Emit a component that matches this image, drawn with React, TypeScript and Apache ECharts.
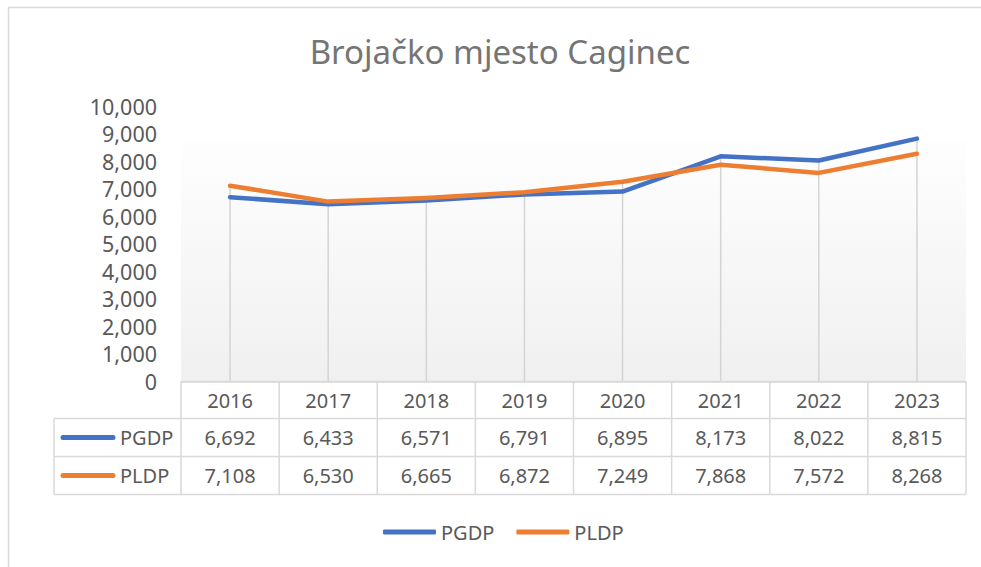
import React, { useEffect, useRef } from "react";
import * as echarts from "echarts";

const categories = ["2016", "2017", "2018", "2019", "2020", "2021", "2022", "2023"];
const seriesNames = ["PGDP", "PLDP"];
const pgdp = [6692, 6433, 6571, 6791, 6895, 8173, 8022, 8815];
const pldp = [7108, 6530, 6665, 6872, 7249, 7868, 7572, 8268];
const colors = ["#4472C4", "#ED7D31"];
const titleText = "Brojačko mjesto Caginec";

const W = 981;
const H = 567;
const FONT = "'Noto Sans', sans-serif";
const GRID_LEFT = 181;
const GRID_RIGHT = 15;
const GRID_TOP = 106;
const GRID_BOTTOM = 185.5;
const GRAY = "#595959";
const LINE = "#d9d9d9";

const fmt = (v: number) => v.toLocaleString("en-US");

export default function App() {
  const ref = useRef<HTMLDivElement>(null);
  useEffect(() => {
    if (!ref.current) return;
    const chart = echarts.init(ref.current, null, { renderer: "svg" });
    const plotW = W - GRID_LEFT - GRID_RIGHT;
    const colW = plotW / categories.length;
    const axisY = H - GRID_BOTTOM;
    const rowYs = [axisY, 418.5, 456.5, 494.5];
    const legendColLeft = 54;
    const seriesData = [pgdp, pldp];
    const drop = categories.map((_, i) => Math.max(pgdp[i], pldp[i]));

    const g: any[] = [];
    g.push({
      type: "rect",
      shape: { x: 8.5, y: 7.5, width: 1000, height: 600 },
      style: { fill: "none", stroke: LINE, lineWidth: 1.5 },
      z: 0,
    });
    g.push({
      type: "rect",
      shape: { x: GRID_LEFT, y: 141, width: plotW, height: axisY - 141 },
      style: {
        fill: new echarts.graphic.LinearGradient(0, 0, 0, 1, [
          { offset: 0, color: "#fefefe" },
          { offset: 1, color: "#f0f0f0" },
        ]),
      },
      z: 0,
    });
    g.push({
      type: "text",
      x: 500,
      y: 51,
      style: {
        text: titleText,
        fontFamily: FONT,
        fontSize: 33,
        fill: "#757575",
        align: "center",
        verticalAlign: "middle",
      },
      z: 5,
    });
    rowYs.forEach((y, k) => {
      g.push({
        type: "line",
        shape: { x1: k === 0 ? GRID_LEFT : legendColLeft, y1: y, x2: GRID_LEFT + plotW, y2: y },
        style: { stroke: LINE, lineWidth: 1.5 },
        z: 4,
      });
    });
    for (let c = 0; c <= categories.length; c++) {
      const x = GRID_LEFT + c * colW;
      g.push({
        type: "line",
        shape: { x1: x, y1: rowYs[0], x2: x, y2: rowYs[3] },
        style: { stroke: LINE, lineWidth: 1.5 },
        z: 4,
      });
    }
    g.push({
      type: "line",
      shape: { x1: legendColLeft, y1: rowYs[1], x2: legendColLeft, y2: rowYs[3] },
      style: { stroke: LINE, lineWidth: 1.5 },
      z: 4,
    });
    categories.forEach((cat, i) => {
      g.push({
        type: "text",
        x: GRID_LEFT + (i + 0.5) * colW,
        y: (rowYs[0] + rowYs[1]) / 2,
        style: { text: cat, fontFamily: FONT, fontSize: 20, fill: GRAY, align: "center", verticalAlign: "middle" },
        z: 5,
      });
    });
    seriesData.forEach((arr, r) => {
      const cy = (rowYs[r + 1] + rowYs[r + 2]) / 2;
      g.push({
        type: "line",
        shape: { x1: 63, y1: cy, x2: 113, y2: cy },
        style: { stroke: colors[r], lineWidth: 5, lineCap: "round" },
        z: 5,
      });
      g.push({
        type: "text",
        x: 120,
        y: cy,
        style: { text: seriesNames[r], fontFamily: FONT, fontSize: 20, fill: GRAY, align: "left", verticalAlign: "middle" },
        z: 5,
      });
      arr.forEach((v, i) => {
        g.push({
          type: "text",
          x: GRID_LEFT + (i + 0.5) * colW,
          y: cy,
          style: { text: fmt(v), fontFamily: FONT, fontSize: 20, fill: GRAY, align: "center", verticalAlign: "middle" },
          z: 5,
        });
      });
    });

    chart.setOption({
      animation: false,
      backgroundColor: "#ffffff",
      textStyle: { fontFamily: FONT },
      grid: { left: GRID_LEFT, right: GRID_RIGHT, top: GRID_TOP, bottom: GRID_BOTTOM, containLabel: false },
      legend: {
        data: seriesNames,
        left: 378,
        top: 517,
        itemWidth: 53,
        itemHeight: 5,
        itemGap: 22,
        icon: "roundRect",
        textStyle: { fontFamily: FONT, fontSize: 20, color: GRAY },
      },
      xAxis: {
        type: "category",
        data: categories,
        boundaryGap: true,
        axisLine: { show: true, lineStyle: { color: LINE, width: 1.5 } },
        axisTick: { show: false },
        axisLabel: { show: false },
        splitLine: { show: false },
      },
      yAxis: {
        type: "value",
        min: 0,
        max: 10000,
        interval: 1000,
        axisLine: { show: false },
        axisTick: { show: false },
        splitLine: { show: false },
        axisLabel: {
          margin: 24,
          fontFamily: FONT,
          fontSize: 21.5,
          color: GRAY,
          formatter: (v: number) => fmt(v),
        },
      },
      graphic: { elements: g },
      series: [
        {
          name: "drop",
          type: "bar",
          data: drop,
          barWidth: 1.5,
          itemStyle: { color: "#d4d4d4" },
          silent: true,
          z: 1,
        },
        {
          name: seriesNames[0],
          type: "line",
          data: pgdp,
          symbol: "none",
          lineStyle: { color: colors[0], width: 4.5, cap: "round", join: "round" },
          itemStyle: { color: colors[0] },
          z: 3,
        },
        {
          name: seriesNames[1],
          type: "line",
          data: pldp,
          symbol: "none",
          lineStyle: { color: colors[1], width: 4.5, cap: "round", join: "round" },
          itemStyle: { color: colors[1] },
          z: 3,
        },
      ],
    });
    return () => chart.dispose();
  }, []);
  return (
    <div
      ref={ref}
      style={{ position: "fixed", left: 0, top: 0, width: W, height: H, background: "#fff" }}
    />
  );
}
